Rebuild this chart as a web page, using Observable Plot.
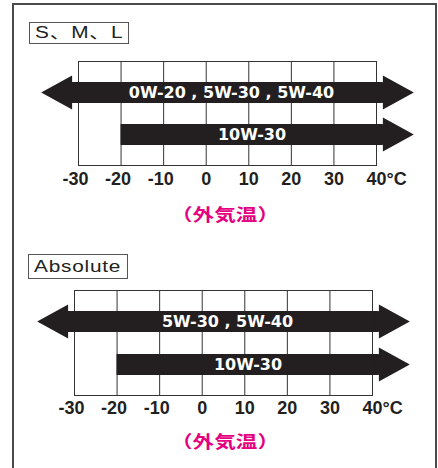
<!DOCTYPE html>
<html>
<head>
<meta charset="utf-8">
<script src="https://cdn.jsdelivr.net/npm/d3@7"></script>
<script src="https://cdn.jsdelivr.net/npm/@observablehq/plot@0.6"></script>
<style>
  html, body { margin: 0; padding: 0; background: #fff; }
  #page { position: relative; width: 438px; height: 468px; overflow: hidden; }
  .outer { position: absolute; left: 12px; top: 3px; width: 425px; height: 520px;
           border: 2px solid #4a4a4a; box-sizing: border-box; pointer-events: none; }
  .tag { position: absolute; border: 1px solid #555; box-sizing: border-box;
         font-family: "Liberation Sans", Arial, "Noto Sans CJK JP", sans-serif;
         font-size: 16px; color: #222; white-space: nowrap; letter-spacing: 0.6px; }
  .tag span { position: absolute; left: 5px; top: 0; display: inline-block;
              transform: scaleX(1.3); transform-origin: 0 50%; }
  .xlabel { position: absolute; left: 0; width: 449px; text-align: center;
            font-family: "Noto Sans CJK JP", sans-serif; font-weight: bold;
            font-size: 17px; line-height: 20px; color: #e4007f; white-space: nowrap; }
  .xlabel span { display: inline-block; transform: scaleX(1.27);
                 font-feature-settings: "halt"; }
  .panel { position: absolute; left: 0; }
</style>
</head>
<body>
<div id="page"></div>
<script>
// ---- data ----
const panelNames = ["S、M、L", "Absolute"];
const grades1 = ["0W-20 , 5W-30 , 5W-40", "10W-30"];
const from1 = [-31.5, -20];
const to1 = [41.5, 41.5];
const leftOpen1 = [true, false];
const grades2 = ["5W-30 , 5W-40", "10W-30"];
const from2 = [-31.5, -20];
const to2 = [41.5, 41.5];
const leftOpen2 = [true, false];
const tempTicks = [-30, -20, -10, 0, 10, 20, 30, 40];
const unitLabel = "°C";
const axisLabel = "（外気温）";

// ---- drawing ----
const ink = "#231f20";
// arrow heads: base overlaps the bar by a couple of pixels to avoid a seam
const headRight = {draw(ctx, size) { const r = Math.sqrt(size / Math.PI);
  ctx.moveTo(-3, -r * 0.6); ctx.lineTo(0, -r * 0.6); ctx.lineTo(0, -r); ctx.lineTo(1.82 * r, 0);
  ctx.lineTo(0, r); ctx.lineTo(0, r * 0.6); ctx.lineTo(-3, r * 0.6); ctx.closePath(); }};
const headLeft = {draw(ctx, size) { const r = Math.sqrt(size / Math.PI);
  ctx.moveTo(3, -r * 0.6); ctx.lineTo(0, -r * 0.6); ctx.lineTo(0, -r); ctx.lineTo(-1.82 * r, 0);
  ctx.lineTo(0, r); ctx.lineTo(0, r * 0.6); ctx.lineTo(3, r * 0.6); ctx.closePath(); }};

function panel(grades, from, to, leftOpen, o) {
  const rows = grades.map((g, i) => ({grade: g, from: from[i], to: to[i], left: leftOpen[i]}));
  const tickStyle = {frameAnchor: "bottom", lineAnchor: "top", dy: o.tickPad, fontSize: 18,
    fontWeight: "bold", fill: ink, fontFamily: "Liberation Sans, Arial, sans-serif"};
  const labelStyle = {y: "grade", text: "grade", fill: "white", fontWeight: "bold", fontSize: 16,
    fontFamily: "DejaVu Sans, sans-serif"};
  return Plot.plot({
    width: 438, height: o.height,
    marginLeft: o.ml, marginRight: o.mr, marginTop: o.mt, marginBottom: o.height - o.mt - o.fh,
    x: {domain: [tempTicks[0], tempTicks[tempTicks.length - 1]], axis: null},
    y: {type: "point", domain: grades, padding: 0.72, axis: null},
    style: {background: "transparent", overflow: "visible"},
    marks: [
      Plot.ruleX(tempTicks, {stroke: "#333", strokeWidth: 1}),
      Plot.frame({stroke: "#333", strokeWidth: 1}),
      Plot.ruleY(rows, {y: "grade", x1: "from", x2: "to", stroke: ink, strokeWidth: 21}),
      Plot.dot(rows, {x: "to", y: "grade", r: 17, symbol: headRight, fill: ink}),
      Plot.dot(rows.filter(d => d.left), {x: "from", y: "grade", r: 17, symbol: headLeft, fill: ink}),
      Plot.text(rows.filter(d => d.left), {x: d => (d.from + d.to) / 2, dx: 4, ...labelStyle}),
      Plot.text(rows.filter(d => !d.left), {x: d => (d.from + d.to) / 2, ...labelStyle}),
      Plot.text(tempTicks.filter(t => t < 0), {x: d => d, text: d => String(d), dx: -3, ...tickStyle}),
      Plot.text(tempTicks.filter(t => t >= 0), {x: d => d, text: d => String(d), ...tickStyle}),
      Plot.text([unitLabel], {x: () => tempTicks[tempTicks.length - 1], text: d => d, textAnchor: "start", dx: 10, ...tickStyle})
    ]
  });
}

const page = document.getElementById("page");
function addPanel(svg, top) {
  const wrap = document.createElement("div");
  wrap.className = "panel"; wrap.style.top = top + "px";
  wrap.appendChild(svg); page.appendChild(wrap);
}
addPanel(panel(grades1, from1, to1, leftOpen1, {height: 200, ml: 78, mr: 62, mt: 61, fh: 104, tickPad: 7}), 0);
addPanel(panel(grades2, from2, to2, leftOpen2, {height: 201, ml: 74, mr: 66, mt: 61, fh: 105, tickPad: 6}), 229);

function addTag(text, left, top, w, h) {
  const d = document.createElement("div");
  d.className = "tag";
  Object.assign(d.style, {left: left + "px", top: top + "px", width: w + "px", height: h + "px"});
  const s = document.createElement("span");
  s.textContent = text; s.style.lineHeight = (h - 2) + "px";
  d.appendChild(s); page.appendChild(d);
}
addTag(panelNames[0], 29, 22, 100, 22);
addTag(panelNames[1], 28, 254, 100, 25);

function addXLabel(cy) {
  const d = document.createElement("div");
  d.className = "xlabel"; d.style.top = (cy - 10) + "px";
  const s = document.createElement("span"); s.textContent = axisLabel;
  d.appendChild(s); page.appendChild(d);
}
addXLabel(214);
addXLabel(441);

const outer = document.createElement("div");
outer.className = "outer"; page.appendChild(outer);
</script>
</body>
</html>
